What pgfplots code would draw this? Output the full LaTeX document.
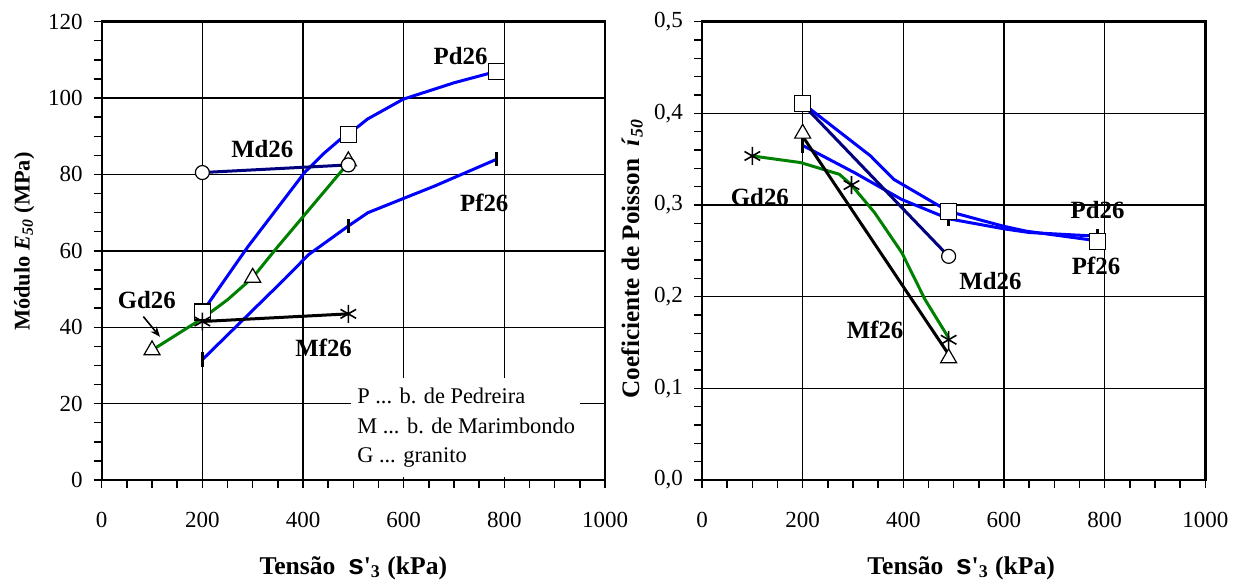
\documentclass[border=0pt]{standalone}
\usepackage{fontspec}
\setmainfont{Liberation Serif}
\newfontfamily\sfs{Liberation Sans}
\usepackage{pgfplots}
\pgfplotsset{compat=1.18}
\usetikzlibrary{arrows.meta}

\definecolor{xblue}{RGB}{0,0,255}
\definecolor{xnavy}{RGB}{0,0,128}
\definecolor{xgreen}{RGB}{0,128,0}

\pgfplotsset{
  commonax/.style={
    scale only axis, width=251.65pt, height=229.15pt,
    xmin=0, xmax=1000, xtick={0,200,400,600,800,1000}, minor x tick num=3,
    tick align=outside, tick pos=left,
    major tick length=4pt, minor tick length=4pt,
    grid=major, major grid style={black, line width=0.7pt},
    axis line style={black, line width=1.2pt},
    tick style={black, line width=0.7pt},
    tick label style={font=\fontsize{11.5}{13}\selectfont},
    /pgf/number format/assume math mode=true,
    /pgf/number format/1000 sep={},
    xticklabel shift=8.5pt,
    yticklabel shift=2pt,
    xlabel style={at={(axis description cs:0.5,-0.192)}, anchor=center, font=\bfseries\fontsize{12.8}{14}\selectfont},
  },
  ln/.style={line width=1.5pt, no marks},
  mk/.style={only marks, mark options={solid, fill=white, draw=black, line width=0.6pt}},
}

\begin{document}
\begin{tikzpicture}
\useasboundingbox (-50.85pt,-51.5pt) rectangle (567.15pt,240pt);

% ---------------- Left: E50 ----------------
\begin{axis}[commonax, at={(0pt,0pt)},
  ymin=0, ymax=120, ytick={0,20,40,60,80,100,120}, minor y tick num=3,
  xlabel={Tensão\ \ {\sfs\fontsize{14}{14}\selectfont s}\textquotesingle\textsubscript{3} (kPa)},
  ylabel={\textbf{Módulo \textit{E}\textsubscript{\textit{50}} (MPa)}},
  ylabel style={at={(axis description cs:-0.154,0.52)}, anchor=center, font=\fontsize{11.2}{13}\selectfont},
]
% lines
\addplot[ln, xblue] coordinates {(200,44) (290,61) (403,80.5) (443,85.7) (474,89.2) (490,90.5) (528,94.5) (599,99.7) (700,104) (785,107)};
\addplot[ln, xblue] coordinates {(200,31.5) (364,52.7) (411,59) (490,66.5) (529,70) (662,77) (785,84)};
\addplot[ln, xnavy] coordinates {(200,80.5) (490,82.5)};
\addplot[ln, xgreen] coordinates {(100,34) (200,42.3) (250,47.2) (300,53) (348,60.8) (490,83)};
\addplot[ln, black] coordinates {(200,41.5) (490,43.5)};
% markers
\addplot[mk, mark=square*, mark size=4pt] coordinates {(200,44) (490,90.5) (785,107)};
\addplot[mk, mark=|, mark size=3.6pt, mark options={draw=black, line width=1.4pt}] coordinates {(200,31.5) (490,66.5) (785,84)};
\addplot[mk, mark=triangle*, mark size=4.6pt] coordinates {(100,34) (300,53) (490,83.5)};
\addplot[mk, mark=*, mark size=3.5pt] coordinates {(200,80.5) (490,82.5)};
\addplot[mk, mark=asterisk, mark size=4.5pt, mark options={line width=0.8pt}] coordinates {(200,41.5) (490,43.5)};
% legend box
\fill[white] (axis cs:495,0.8) rectangle (axis cs:951,26.7);
\begin{scope}[font=\fontsize{11.2}{13}\selectfont]
\node[anchor=base west, inner sep=0pt] at (axis cs:507,20.1) {P ... b. de Pedreira};
\node[anchor=base west, inner sep=0pt] at (axis cs:507,12.2) {M ... b. de Marimbondo};
\node[anchor=base west, inner sep=0pt] at (axis cs:507,4.5) {G ... granito};
\end{scope}
% series labels
\begin{scope}[font=\bfseries\fontsize{12.4}{14}\selectfont]
\node at (axis cs:713,111) {Pd26};
\node at (axis cs:319,86.6) {Md26};
\node at (axis cs:760,72.6) {Pf26};
\node at (axis cs:89.5,47) {Gd26};
\node at (axis cs:441,34.5) {Mf26};
\end{scope}
\draw[-{Stealth[length=5pt,width=4pt]}, line width=0.8pt] (axis cs:82.7,42.8) -- (axis cs:115.8,37.5);
\end{axis}

% ---------------- Right: Poisson ----------------
\begin{axis}[commonax, at={(300.15pt,0pt)},
  ymin=0, ymax=0.5, ytick={0,0.1,0.2,0.3,0.4,0.5}, minor y tick num=4,
  yticklabel style={/pgf/number format/.cd, fixed, fixed zerofill, precision=1, use comma},
  xlabel style={at={(axis description cs:0.515,-0.192)}},
  xlabel={Tensão\ \ {\sfs\fontsize{14}{14}\selectfont s}\textquotesingle\textsubscript{3} (kPa)},
  ylabel={\textbf{Coeficiente de Poisson\ \ \textit{í}\textsubscript{\textit{50}}}},
  ylabel style={at={(axis description cs:-0.139,0.483)}, anchor=center, font=\fontsize{12.6}{14}\selectfont},
]
% lines
\addplot[ln, xblue] coordinates {(200,0.411) (335,0.3535) (381,0.328) (490,0.293) (598,0.277) (644,0.2715) (785,0.261)};
\addplot[ln, xblue] coordinates {(200,0.365) (304,0.335) (397,0.306) (490,0.285) (600,0.274) (650,0.270) (785,0.266)};
\addplot[ln, xnavy] coordinates {(200,0.41) (490,0.244)};
\addplot[ln, xgreen] coordinates {(100,0.3535) (196,0.3463) (273,0.3335) (297,0.3218) (343,0.2916) (397,0.248) (443,0.197) (490,0.155)};
\addplot[ln, black] coordinates {(200,0.375) (490,0.137)};
% markers
\addplot[mk, mark=|, mark size=3.6pt, mark options={draw=black, line width=1.4pt}] coordinates {(200,0.365) (490,0.285) (785,0.266)};
\addplot[mk, mark=square*, mark size=4pt] coordinates {(200,0.411) (490,0.293) (785,0.2605)};
\addplot[mk, mark=*, mark size=3.5pt] coordinates {(490,0.244)};
\addplot[mk, mark=triangle*, mark size=4.6pt] coordinates {(200,0.378) (490,0.133)};
\addplot[mk, mark=asterisk, mark size=4.5pt, mark options={line width=0.8pt}] coordinates {(100,0.3535) (297,0.3218) (490,0.153)};
% series labels
\begin{scope}[font=\bfseries\fontsize{12.4}{14}\selectfont]
\node at (axis cs:115,0.309) {Gd26};
\node at (axis cs:786,0.2944) {Pd26};
\node at (axis cs:783,0.2332) {Pf26};
\node at (axis cs:573,0.2168) {Md26};
\node at (axis cs:344,0.164) {Mf26};
\end{scope}
\end{axis}
\end{tikzpicture}
\end{document}
